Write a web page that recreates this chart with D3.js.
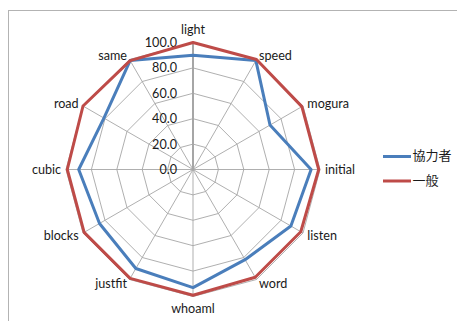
<!DOCTYPE html>
<html>
<head>
<meta charset="utf-8">
<script src="https://cdn.jsdelivr.net/npm/d3@7"></script>
<style>
  html, body { margin: 0; padding: 0; background: #fff; }
  svg { display: block; }
  text { font-family: Lato, "Open Sans", sans-serif; fill: #1a1a1a; }
  .cjk { font-family: "Noto Sans CJK JP", sans-serif; }
</style>
</head>
<body>
<svg id="chart" width="457" height="321"></svg>
<script>
// Radar axes, clockwise from the top
const categories = ["light", "speed", "mogura", "initial", "listen", "word",
                    "whoaml", "justfit", "blocks", "cubic", "road", "same"];
const seriesNames = ["協力者", "一般"];
const kyoryokusha = [90, 99, 70, 93, 89, 82, 93, 90, 85, 90, 81, 99];
const ippan      = [100, 100, 99, 99, 98, 98, 99, 99, 99, 99, 100, 99];
const tickValues = [0, 20, 40, 60, 80, 100];

const seriesValues = [kyoryokusha, ippan];
const colors = ["#4a7ebb", "#be4b48"];

const svg = d3.select("#chart");
const W = 457, H = 321;

// Chart area frame
svg.append("rect")
  .attr("x", 8.5).attr("y", 10.5)
  .attr("width", W + 10).attr("height", H + 10)
  .attr("fill", "#fff").attr("stroke", "#b3b3b3").attr("stroke-width", 1);

const cx = 193, cy = 169.5;
const r = d3.scaleLinear().domain([0, 100]).range([0, 127]);
const angle = d3.scalePoint().domain(categories).range([0, 2 * Math.PI * (categories.length - 1) / categories.length]);

const pt = (cat, v) => {
  const a = angle(cat);
  return [cx + r(v) * Math.sin(a), cy - r(v) * Math.cos(a)];
};

const g = svg.append("g");

// Web rings
tickValues.filter(t => t > 0).forEach(t => {
  g.append("path")
    .attr("d", d3.line()(categories.map(c => pt(c, t))) + "Z")
    .attr("fill", "none").attr("stroke", "#a6a6a6").attr("stroke-width", 0.9);
});

// Spokes (the vertical one doubles as the value axis)
categories.forEach((c, i) => {
  const [x, y] = pt(c, 100);
  g.append("line")
    .attr("x1", cx).attr("y1", cy).attr("x2", x).attr("y2", y)
    .attr("stroke", "#a6a6a6")
    .attr("stroke-width", i === 0 ? 2 : 0.9);
});

// Value axis labels
g.selectAll("text.tick")
  .data(tickValues)
  .join("text")
  .attr("class", "tick")
  .attr("x", cx - 16)
  .attr("y", d => cy - r(d))
  .attr("dy", "0.35em")
  .attr("text-anchor", "end")
  .attr("font-size", 12.6)
  .text(d => d3.format(".1f")(d));

// Series polygons
seriesValues.forEach((vals, si) => {
  g.append("path")
    .attr("d", d3.line()(categories.map((c, i) => pt(c, vals[i]))) + "Z")
    .attr("fill", "none")
    .attr("stroke", colors[si])
    .attr("stroke-width", 3)
    .attr("stroke-linejoin", "round");
});

// Category labels
categories.forEach(c => {
  const a = angle(c);
  const s = Math.sin(a), co = Math.cos(a);
  const [x, y] = [cx + 132 * s, cy - 132 * co];
  const anchor = Math.abs(s) < 0.01 ? "middle" : (s > 0 ? "start" : "end");
  let dy = "0.35em";
  if (co > 0.99) dy = "-0.3em";
  else if (co < -0.99) dy = "0.95em";
  g.append("text")
    .attr("x", x).attr("y", y).attr("dy", dy)
    .attr("text-anchor", anchor)
    .attr("font-size", 12.6)
    .text(c);
});

// Legend
const legend = svg.append("g");
seriesNames.forEach((name, i) => {
  const y = 156.5 + i * 24.5;
  legend.append("line")
    .attr("x1", 383).attr("x2", 411).attr("y1", y).attr("y2", y)
    .attr("stroke", colors[i]).attr("stroke-width", 3);
  legend.append("text")
    .attr("class", "cjk")
    .attr("x", 412.5).attr("y", y - 1).attr("dy", "0.35em")
    .attr("font-size", 13)
    .text(name);
});
</script>
</body>
</html>
